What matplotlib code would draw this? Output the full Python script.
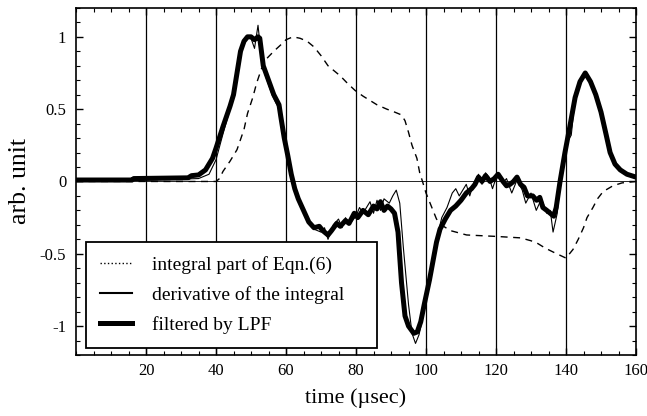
import matplotlib
matplotlib.use("Agg")
import matplotlib.pyplot as plt
from matplotlib.lines import Line2D
from matplotlib.ticker import MultipleLocator

plt.rcParams['font.family'] = ['Liberation Serif', 'DejaVu Serif']

# integral part of Eqn.(6)
int_t = [0, 40, 41, 42, 44, 46, 48, 49, 50.5, 51.6, 53, 54.5, 56.5, 58.3, 60, 62,
         64, 66, 68, 70, 72, 73.5, 75.5, 77.5, 79.7, 82, 84, 86, 88.8, 91, 93, 94,
         95, 96, 97.4, 98.2, 99, 100, 101, 103, 105, 107, 111.6, 120, 127, 130, 132,
         134, 136.5, 140, 142, 143.5, 145, 146, 147.7, 149, 150.6, 153.4, 156, 160]
int_y = [0, 0, 0.02, 0.07, 0.14, 0.22, 0.36, 0.47, 0.58, 0.68, 0.78, 0.85, 0.9, 0.94,
         0.98, 1.0, 0.99, 0.97, 0.93, 0.87, 0.8, 0.77, 0.73, 0.68, 0.63, 0.59, 0.56,
         0.53, 0.5, 0.48, 0.46, 0.42, 0.34, 0.25, 0.16, 0.06, 0.0, -0.08, -0.14, -0.26,
         -0.31, -0.34, -0.37, -0.38, -0.39, -0.41, -0.43, -0.46, -0.49, -0.53, -0.47,
         -0.4, -0.32, -0.25, -0.18, -0.12, -0.07, -0.03, -0.01, 0.0]

# derivative of the integral
der_t = [0, 20, 35, 38, 40, 42, 44, 46, 47.5, 49, 50, 51, 52, 53, 54, 56, 58, 59.5,
         61, 62.5, 64, 66, 68, 70, 71, 72, 73.5, 75, 76, 77, 78, 80, 81, 82, 84, 85,
         86, 87, 88, 89.5, 90.5, 91.5, 92.5, 93.5, 95, 96, 97, 98, 99, 100, 101.5,
         103, 104.5, 106, 107.5, 108.5, 109.5, 110.5, 111.5, 112.5, 113.5, 115, 116,
         117, 118, 119, 120.5, 122, 123, 124.5, 126, 127.5, 128.5, 130, 131.5, 133,
         134.5, 135.5, 136.3, 137.5, 138.5, 139.5, 140.5, 141.5, 142.5, 144, 145.5,
         147, 148.5, 150, 151.5, 152.6, 154, 155.5, 157.4, 160]
der_y = [0.005, 0.01, 0.02, 0.05, 0.15, 0.33, 0.5, 0.72, 0.92, 1.0, 0.99, 0.92, 1.08,
         0.85, 0.74, 0.6, 0.5, 0.3, 0.12, -0.05, -0.16, -0.27, -0.33, -0.35, -0.32,
         -0.4, -0.3, -0.26, -0.32, -0.25, -0.3, -0.24, -0.18, -0.22, -0.14, -0.22,
         -0.13, -0.2, -0.12, -0.15, -0.1, -0.06, -0.15, -0.45, -0.85, -1.05, -1.12,
         -1.06, -0.95, -0.82, -0.6, -0.4, -0.25, -0.18, -0.08, -0.05, -0.1, -0.06,
         -0.02, -0.1, -0.02, 0.05, -0.02, 0.06, 0.03, -0.05, 0.06, -0.01, 0.02, -0.08,
         0.01, -0.06, -0.15, -0.08, -0.2, -0.12, -0.22, -0.2, -0.35, -0.22, 0.02,
         0.15, 0.28, 0.32, 0.55, 0.68, 0.74, 0.7, 0.6, 0.48, 0.32, 0.2, 0.12, 0.08,
         0.05, 0.03]

# filtered by LPF
lpf_t = [0, 16, 16.5, 32, 33, 35, 37, 39, 40, 42, 44, 45, 46, 47, 48, 49, 50, 51, 52,
         52.5, 53.5, 55, 56.5, 58, 58.5, 59.5, 60.5, 61.5, 62.5, 63.5, 65, 66.5, 68,
         69.5, 70.5, 72, 73, 74.5, 75.5, 77, 78, 79.5, 80.5, 82, 83.5, 85, 86, 87, 88,
         89, 90, 91, 92, 93, 94, 95, 96.5, 97.5, 98.5, 99.5, 101, 102, 103, 104, 105.5,
         107, 108.5, 110, 111.5, 113, 114, 115, 116, 117, 118.3, 119.5, 120.6, 122,
         123, 124, 125, 126, 127, 128, 129, 130.5, 131.6, 132.5, 133.4, 134.5, 135.5,
         136.5, 137.2, 138.3, 139.7, 141.1, 142.6, 144, 145.5, 147, 148.5, 150, 151.5,
         152.6, 154, 155.5, 157.4, 160]
lpf_y = [0.01, 0.01, 0.02, 0.025, 0.04, 0.045, 0.08, 0.16, 0.23, 0.38, 0.52, 0.6,
         0.75, 0.9, 0.97, 1.0, 1.0, 0.98, 1.0, 0.99, 0.8, 0.7, 0.6, 0.53, 0.45, 0.3,
         0.18, 0.05, -0.05, -0.12, -0.2, -0.28, -0.32, -0.31, -0.34, -0.37, -0.34,
         -0.29, -0.31, -0.27, -0.29, -0.22, -0.25, -0.2, -0.23, -0.17, -0.19, -0.14,
         -0.2, -0.17, -0.19, -0.22, -0.35, -0.7, -0.93, -1.0, -1.05, -1.04, -0.97,
         -0.85, -0.68, -0.55, -0.42, -0.33, -0.26, -0.2, -0.17, -0.13, -0.08, -0.05,
         -0.02, 0.03, 0.0, 0.04, 0.0, 0.02, 0.05, 0.0, -0.03, -0.02, 0.0, 0.03, -0.02,
         -0.04, -0.1, -0.1, -0.13, -0.11, -0.18, -0.2, -0.22, -0.24, -0.18, 0.0, 0.2,
         0.38, 0.58, 0.69, 0.75, 0.69, 0.6, 0.48, 0.32, 0.2, 0.12, 0.08, 0.05, 0.03]

grid_x = [20, 40, 60, 80, 100, 120, 140]

fig = plt.figure(figsize=(6.47, 4.16), dpi=100)
ax = fig.add_axes([0.1175, 0.1466, 0.8655, 0.8344])

for gx in grid_x:
    ax.axvline(gx, color='black', lw=0.9, zorder=1)
ax.axhline(0, color='black', lw=0.6, zorder=1)

ax.plot(int_t, int_y, color='black', lw=1.0, dashes=(5, 4), zorder=2)
ax.plot(der_t, der_y, color='black', lw=0.8, zorder=3)
ax.plot(lpf_t, lpf_y, color='black', lw=3.6, solid_joinstyle='round', zorder=4)

ax.set_xlim(0, 160)
ax.set_ylim(-1.2, 1.2)
ax.xaxis.set_minor_locator(MultipleLocator(5))
ax.yaxis.set_minor_locator(MultipleLocator(0.1))
ax.set_xticks([20, 40, 60, 80, 100, 120, 140, 160])
ax.set_xticklabels(['20', '40', '60', '80', '100', '120', '140', '160'])
ax.set_yticks([-1, -0.5, 0, 0.5, 1])
ax.set_yticklabels(['-1', '-0.5', '0', '0.5', '1'])
ax.tick_params(which='both', direction='in', top=True, right=True, labelsize=12)
ax.tick_params(which='major', length=5, width=1)
ax.tick_params(which='minor', length=3, width=0.8)
ax.tick_params(axis='x', pad=5.5)
ax.tick_params(axis='y', pad=7)
for s in ax.spines.values():
    s.set_linewidth(1.2)

ax.set_xlabel('time (µsec)', fontsize=16, labelpad=7)
ax.set_ylabel('arb. unit', fontsize=18.5, labelpad=6)

handles = [Line2D([], [], color='black', lw=1.0, ls=':'),
           Line2D([], [], color='black', lw=1.5),
           Line2D([], [], color='black', lw=3.6)]
labels = ['integral part of Eqn.(6)', 'derivative of the integral', 'filtered by LPF']
leg = ax.legend(handles, labels, loc='lower left',
                bbox_to_anchor=(0.018, 0.02, 0.52, 0.3), mode='expand',
                borderaxespad=0, fontsize=14, frameon=True, fancybox=False,
                handlelength=1.65, handletextpad=1.0, labelspacing=0.62,
                borderpad=0.72)
leg.get_frame().set_edgecolor('black')
leg.get_frame().set_linewidth(1.3)
leg.get_frame().set_alpha(1)
leg.set_zorder(5)

fig.savefig('out.png', dpi=100)
